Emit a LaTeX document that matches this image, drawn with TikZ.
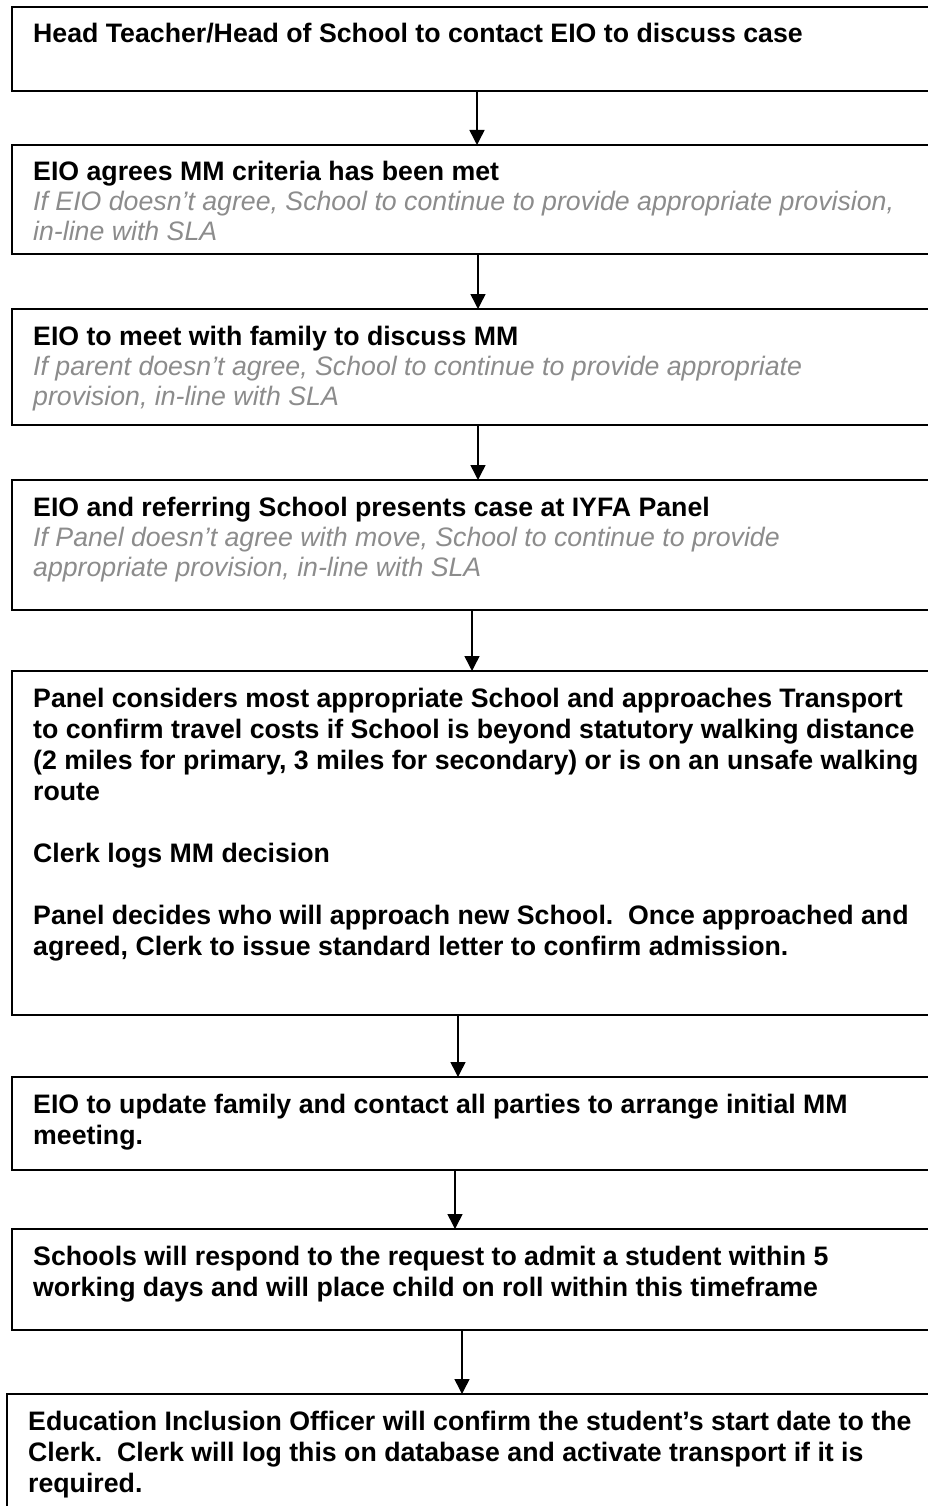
\documentclass[tikz,border=0pt]{standalone}
\usepackage{fontspec}
\setmainfont{Liberation Sans}
\usetikzlibrary{arrows.meta}
\definecolor{notegrey}{HTML}{8C8C8C}
\begin{document}
\begin{tikzpicture}[x=1pt,y=-1pt,
  box/.style={draw=black, line width=1.5pt, anchor=north west, inner sep=0pt, outer sep=0pt, minimum width=940pt},
  txt/.style={anchor=base west, inner sep=0pt, font=\fontsize{26.7}{31}\selectfont\bfseries},
  note/.style={anchor=base west, inner sep=0pt, font=\fontsize{26.7}{31}\selectfont\itshape, text=notegrey},
  arr/.style={line width=1.5pt, -{Triangle[width=15pt,length=15pt]}}]
\useasboundingbox (0,0) rectangle (928,1506);
\clip (0,0) rectangle (928,1506);
\fill[white] (0,0) rectangle (928,1506);

% boxes
\node[box, minimum height=84pt]  (b1) at (12,7) {};
\node[box, minimum height=109pt] (b2) at (12,145) {};
\node[box, minimum height=116pt] (b3) at (12,309) {};
\node[box, minimum height=130pt] (b4) at (12,480) {};
\node[box, minimum height=344pt] (b5) at (12,671) {};
\node[box, minimum height=93pt]  (b6) at (12,1077) {};
\node[box, minimum height=101pt] (b7) at (12,1229) {};
\node[box, minimum height=170pt] (b8) at (7,1394) {};

% texts
\node[txt] (t1) at (33,43) {Head Teacher/Head of School to contact EIO to discuss case};

\node[txt]  (t2a) at (33,181) {EIO agrees MM criteria has been met};
\node[note] (t2b) at (33,211) {If EIO doesn’t agree, School to continue to provide appropriate provision,};
\node[note] (t2c) at (33,241) {in-line with SLA};

\node[txt]  (t3a) at (33,345) {EIO to meet with family to discuss MM};
\node[note] (t3b) at (33,375) {If parent doesn’t agree, School to continue to provide appropriate};
\node[note] (t3c) at (33,405) {provision, in-line with SLA};

\node[txt]  (t4a) at (33,516) {EIO and referring School presents case at IYFA Panel};
\node[note] (t4b) at (33,546) {If Panel doesn’t agree with move, School to continue to provide};
\node[note] (t4c) at (33,576) {appropriate provision, in-line with SLA};

\node[txt] (t5a) at (33,707) {Panel considers most appropriate School and approaches Transport};
\node[txt] (t5b) at (33,738) {to confirm travel costs if School is beyond statutory walking distance};
\node[txt] (t5c) at (33,769) {(2 miles for primary, 3 miles for secondary) or is on an unsafe walking};
\node[txt] (t5d) at (33,800) {route};
\node[txt] (t5e) at (33,862) {Clerk logs MM decision};
\node[txt] (t5f) at (33,924) {Panel decides who will approach new School.\ \ Once approached and};
\node[txt] (t5g) at (33,955) {agreed, Clerk to issue standard letter to confirm admission.};

\node[txt] (t6a) at (33,1113) {EIO to update family and contact all parties to arrange initial MM};
\node[txt] (t6b) at (33,1144) {meeting.};

\node[txt] (t7a) at (33,1265) {Schools will respond to the request to admit a student within 5};
\node[txt] (t7b) at (33,1296) {working days and will place child on roll within this timeframe};

\node[txt] (t8a) at (28,1430) {Education Inclusion Officer will confirm the student’s start date to the};
\node[txt] (t8b) at (28,1461) {Clerk.\ \ Clerk will log this on database and activate transport if it is};
\node[txt] (t8c) at (28,1492) {required.};

% arrow columns
\coordinate (x1) at (477,0);
\coordinate (x2) at (478,0);
\coordinate (x3) at (478,0);
\coordinate (x4) at (472,0);
\coordinate (x5) at (458,0);
\coordinate (x6) at (455,0);
\coordinate (x7) at (462,0);

\draw[arr] (b1.south -| x1) -- (b2.north -| x1);
\draw[arr] (b2.south -| x2) -- (b3.north -| x2);
\draw[arr] (b3.south -| x3) -- (b4.north -| x3);
\draw[arr] (b4.south -| x4) -- (b5.north -| x4);
\draw[arr] (b5.south -| x5) -- (b6.north -| x5);
\draw[arr] (b6.south -| x6) -- (b7.north -| x6);
\draw[arr] (b7.south -| x7) -- (b8.north -| x7);
\end{tikzpicture}
\end{document}
